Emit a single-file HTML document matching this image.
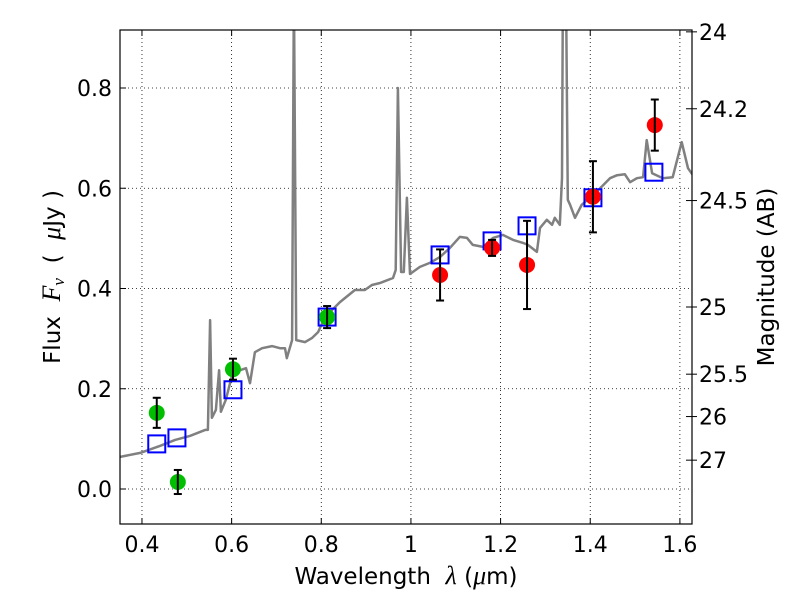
<!DOCTYPE html>
<html><head><meta charset="utf-8"><style>
html,body{margin:0;padding:0;background:#fff;}
svg{display:block;font-family:"DejaVu Sans","Liberation Sans",sans-serif;}
</style></head><body>
<svg id="chart" width="800" height="600" viewBox="0 0 800 600" xmlns="http://www.w3.org/2000/svg">
<rect width="800" height="600" fill="#fff"/>
<g id="grid"></g><g id="series"></g><g id="axes"></g>
</svg>
<script>
const specWave=[0.351,0.396,0.440,0.474,0.507,0.541,0.547,0.552,0.556,0.565,0.572,0.576,0.587,0.601,0.619,0.632,0.641,0.652,0.668,0.690,0.708,0.719,0.723,0.735,0.739,0.744,0.764,0.779,0.793,0.808,0.842,0.875,0.897,0.913,0.931,0.960,0.966,0.971,0.978,0.984,0.991,0.998,1.020,1.042,1.065,1.087,1.109,1.125,1.138,1.161,1.183,1.205,1.228,1.250,1.261,1.281,1.288,1.303,1.315,1.321,1.332,1.337,1.339,1.346,1.350,1.355,1.366,1.381,1.399,1.422,1.444,1.460,1.477,1.489,1.504,1.518,1.526,1.538,1.562,1.584,1.604,1.618,1.629];
const specFlux=[0.064,0.072,0.086,0.098,0.106,0.118,0.118,0.337,0.142,0.158,0.237,0.154,0.178,0.227,0.237,0.241,0.211,0.273,0.281,0.285,0.281,0.281,0.261,0.297,1.0,0.297,0.293,0.301,0.313,0.343,0.373,0.397,0.397,0.407,0.411,0.421,0.437,0.800,0.433,0.433,0.581,0.429,0.443,0.451,0.463,0.481,0.503,0.501,0.487,0.483,0.501,0.507,0.497,0.491,0.487,0.473,0.521,0.537,0.527,0.541,0.527,0.62,1.0,1.0,0.577,0.567,0.541,0.567,0.581,0.600,0.620,0.626,0.628,0.612,0.620,0.622,0.696,0.630,0.620,0.622,0.692,0.640,0.626];
const greenWave=[0.433,0.480,0.603,0.813];
const greenFlux=[0.152,0.014,0.239,0.343];
const greenErr=[0.030,0.024,0.021,0.022];
const redWave=[1.065,1.181,1.259,1.406,1.544];
const redFlux=[0.427,0.481,0.447,0.583,0.726];
const redErr=[0.051,0.016,0.088,0.071,0.051];
const modelWave=[0.433,0.478,0.603,0.813,1.065,1.181,1.259,1.406,1.542];
const modelFlux=[0.090,0.102,0.198,0.343,0.467,0.495,0.525,0.581,0.632];
const xTicks=[0.4,0.6,0.8,1.0,1.2,1.4,1.6];
const xTickLabels=["0.4","0.6","0.8","1","1.2","1.4","1.6"];
const yTicks=[0.0,0.2,0.4,0.6,0.8];
const yTickLabels=["0.0","0.2","0.4","0.6","0.8"];
const magTicks=[24,24.2,24.5,25,25.5,26,27];
const magTickLabels=["24","24.2","24.5","25","25.5","26","27"];

const L=120,R=692,T=30,B=524;
const xMin=0.351,xMax=1.627,yMin=-0.0698,yMax=0.9157;
const X=v=>L+(v-xMin)/(xMax-xMin)*(R-L);
const Y=v=>B-(v-yMin)/(yMax-yMin)*(B-T);
const magToFlux=m=>Math.pow(10,(23.9-m)/2.5);
const NS="http://www.w3.org/2000/svg";
function mk(tag,attrs,parent,text){const e=document.createElementNS(NS,tag);for(const k in attrs)e.setAttribute(k,attrs[k]);if(text!==undefined)e.textContent=text;parent.appendChild(e);return e;}
const grid=document.getElementById('grid'),series=document.getElementById('series'),axes=document.getElementById('axes');

const defs=mk('defs',{},document.getElementById('chart'));
const cp=mk('clipPath',{id:'plotclip'},defs);mk('rect',{x:L,y:T,width:R-L,height:B-T},cp);
series.setAttribute('clip-path','url(#plotclip)');

xTicks.forEach((t,i)=>{
 const g=mk('line',{x1:X(t),x2:X(t),y1:T,y2:B,stroke:'#000','stroke-width':0.8,'stroke-dasharray':'1,3'},grid);
 
 mk('line',{x1:X(t),x2:X(t),y1:B,y2:B-6,stroke:'#000'},axes);
 mk('line',{x1:X(t),x2:X(t),y1:T,y2:T+6,stroke:'#000'},axes);
 const tx=mk('text',{x:X(t),y:B+28,'text-anchor':'middle','font-size':22},axes,xTickLabels[i]);
 
});
yTicks.forEach((t,i)=>{
 const g=mk('line',{x1:L,x2:R,y1:Y(t),y2:Y(t),stroke:'#000','stroke-width':0.8,'stroke-dasharray':'1,3'},grid);
 
 mk('line',{x1:L,x2:L+6,y1:Y(t),y2:Y(t),stroke:'#000'},axes);
 const tx=mk('text',{x:L-8,y:Y(t)+8,'text-anchor':'end','font-size':22},axes,yTickLabels[i]);
 
});
magTicks.forEach((m,i)=>{
 const y=Y(magToFlux(m));
 mk('line',{x1:R,x2:R-6,y1:y,y2:y,stroke:'#000'},axes);
 mk('line',{x1:R,x2:R+5,y1:y,y2:y,stroke:'#000'},axes);
 const tx=mk('text',{x:R+7,y:y+8,'font-size':22},axes,magTickLabels[i]);
 
});

const pts=specWave.map((w,i)=>X(w).toFixed(1)+','+Y(specFlux[i]).toFixed(1)).join(' ');
const sp=mk('polyline',{points:pts,fill:'none',stroke:'#808080','stroke-width':2.5,'stroke-linejoin':'round'},series);


modelWave.forEach((w,i)=>{
 const s=mk('rect',{x:X(w)-8.5,y:Y(modelFlux[i])-8.5,width:17,height:17,fill:'none',stroke:'#0000ff','stroke-width':2},series);
 
});
function pts2(wa,fa,ea,col,name){
 wa.forEach((w,i)=>{
  const x=X(w),y1=Y(fa[i]+ea[i]),y2=Y(fa[i]-ea[i]);
  const c=mk('circle',{cx:x,cy:Y(fa[i]),r:8,fill:col},series);
  
  const eb=mk('g',{stroke:'#000','stroke-width':2},series);
  
  mk('line',{x1:x,x2:x,y1:y1,y2:y2},eb);
  mk('line',{x1:x-4,x2:x+4,y1:y1,y2:y1},eb);
  mk('line',{x1:x-4,x2:x+4,y1:y2,y2:y2},eb);
 });
}
pts2(greenWave,greenFlux,greenErr,'#00bf00','optical-photometry-point');
pts2(redWave,redFlux,redErr,'#ff0000','nir-photometry-point');

const fr=mk('rect',{x:L,y:T,width:R-L,height:B-T,fill:'none',stroke:'#000','stroke-width':1.2},axes);


const xl=mk('text',{x:406,y:584,'text-anchor':'middle','font-size':23,'xml:space':'preserve'},axes);

xl.innerHTML='Wavelength\u00a0\u00a0<tspan font-family="Liberation Serif" font-style="italic" font-size="26">λ</tspan> (<tspan font-family="Liberation Serif" font-style="italic" font-size="26">μ</tspan>m)';
const yl=mk('text',{x:0,y:0,'text-anchor':'middle','font-size':23,transform:'translate(60,277) rotate(-90)'},axes);

yl.innerHTML='Flux\u00a0\u00a0<tspan font-family="Liberation Serif" font-style="italic" font-size="26">F</tspan><tspan font-family="Liberation Serif" font-style="italic" font-size="17" dy="4">ν</tspan><tspan dy="-4">\u00a0\u00a0(\u00a0\u00a0</tspan><tspan font-family="Liberation Serif" font-style="italic" font-size="26">μ</tspan>Jy )';
const rl=mk('text',{x:0,y:0,'text-anchor':'middle','font-size':23,transform:'translate(774,277) rotate(-90)'},axes,'Magnitude (AB)');

</script>
</body></html>
